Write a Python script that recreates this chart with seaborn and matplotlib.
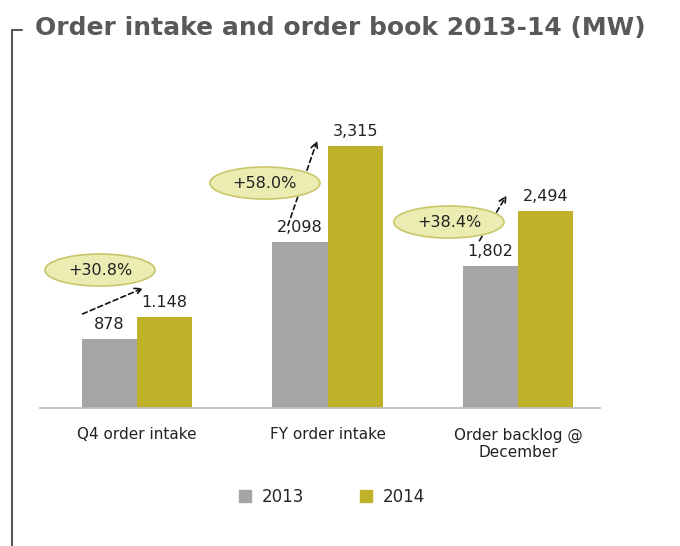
import matplotlib
matplotlib.use("Agg")
import matplotlib.pyplot as plt
from matplotlib.lines import Line2D
from matplotlib.patches import Ellipse
import pandas as pd
import seaborn as sns

# datos
categories = ["Q4 order intake", "FY order intake", "Order backlog @\nDecember"]
years = ["2013", "2014"]
values_2013 = [878, 2098, 1802]
values_2014 = [1148, 3315, 2494]
labels_2013 = ["878", "2,098", "1,802"]
labels_2014 = ["1.148", "3,315", "2,494"]
growth = ["+30.8%", "+58.0%", "+38.4%"]

colors = {"2013": "#A5A5A5", "2014": "#BFB22A"}

df = pd.DataFrame({
    "categoria": categories * 2,
    "anio": [years[0]] * 3 + [years[1]] * 3,
    "MW": values_2013 + values_2014,
})

sns.set_theme(style="white")
plt.rcParams["font.family"] = ["DejaVu Sans"]

fig = plt.figure(figsize=(6.8, 5.46), dpi=100)
ax = fig.add_axes([0.0588, 0.2527, 0.8235, 0.6373])

sns.barplot(data=df, x="categoria", y="MW", hue="anio", palette=colors,
            width=0.58, gap=0, saturation=1, legend=False, linewidth=0, ax=ax)

for cont, labs in zip(ax.containers, [labels_2013, labels_2014]):
    ax.bar_label(cont, labels=labs, padding=5, fontsize=11.5, color="#222222")

ax.set_xlim(-0.51, 2.43)
ax.set_ylim(0, 4400)
ax.set_xlabel("")
ax.set_ylabel("")
ax.set_yticks([])
ax.tick_params(axis="x", length=0, labelsize=11, colors="#222222", pad=14)
for s in ["left", "right", "top"]:
    ax.spines[s].set_visible(False)
ax.spines["bottom"].set_color("#BFBFBF")

# elipses y flechas de crecimiento (posiciones de maquetación)
ell_pos = [(-0.195, 1745), (0.671, 2845), (1.637, 2352)]
arrows = [((-0.30, 1176), (0.045, 1530)),
          ((0.787, 2276), (0.95, 3414)),
          ((1.79, 2086), (1.947, 2718))]
for (ex, ey), txt, (p0, p1) in zip(ell_pos, growth, arrows):
    ax.annotate("", xy=p1, xytext=p0,
                arrowprops=dict(arrowstyle="->", linestyle=(0, (3, 2)),
                                color="#111111", lw=1.2))
    ax.add_patch(Ellipse((ex, ey), 0.578, 405, facecolor="#EBECB2",
                         edgecolor="#C9C66A", lw=1.2, zorder=5))
    ax.text(ex, ey, txt, ha="center", va="center", fontsize=11.5,
            color="#222222", zorder=6)

# leyenda
handles = [Line2D([], [], marker="s", linestyle="none", markersize=8,
                  color=colors[y]) for y in years]
fig.legend(handles, years, loc="center", bbox_to_anchor=(0.48, 0.09),
           ncol=2, frameon=False, fontsize=12, handletextpad=0.0,
           columnspacing=2.7)

# título y marco izquierdo
fig.text(0.051, 0.948, "Order intake and order book 2013-14 (MW)",
         fontsize=18, fontweight="bold", color="#595959", va="center")
fig.add_artist(Line2D([0.018, 0.018], [0.0, 0.945], color="#595959", lw=1.5))
fig.add_artist(Line2D([0.018, 0.033], [0.945, 0.945], color="#595959", lw=1.5))

fig.savefig("out.png", dpi=100)
